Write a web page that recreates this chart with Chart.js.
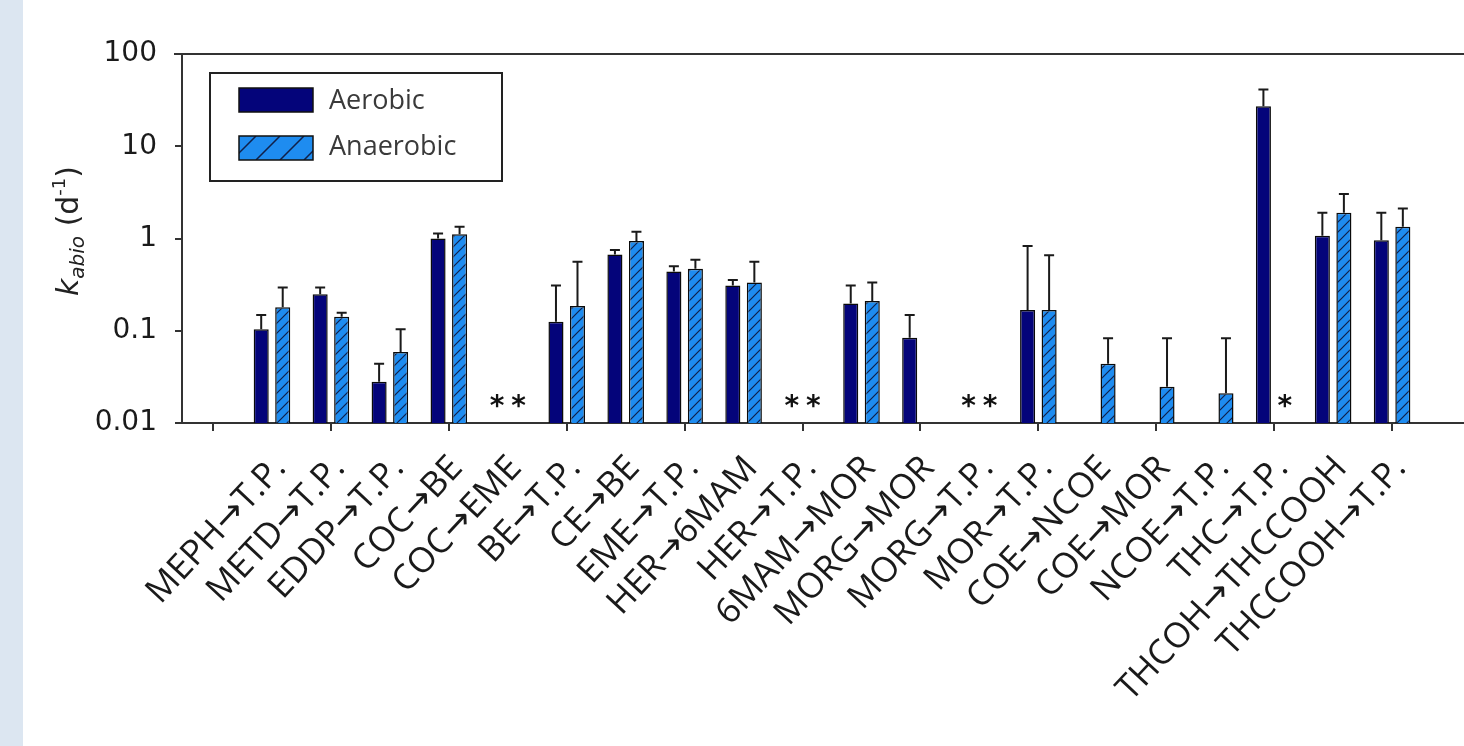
<!DOCTYPE html>
<html>
<head>
<meta charset="utf-8">
<script src="https://cdn.jsdelivr.net/npm/chart.js@4.4.1/dist/chart.umd.min.js"></script>
<style>
  html, body { margin: 0; padding: 0; background: #fff; }
  #wrap { position: relative; width: 1464px; height: 746px; overflow: hidden; }
  #strip { position: absolute; left: 0; top: 0; width: 23px; height: 746px; background: #dce6f1; }
</style>
</head>
<body>
<div id="wrap">
  <canvas id="chart" width="1464" height="746"></canvas>
  <div id="strip"></div>
</div>
<script>
// transformations (x categories)
const categories = [
  'MEPH→T.P.', 'METD→T.P.', 'EDDP→T.P.', 'COC→BE', 'COC→EME',
  'BE→T.P.', 'CE→BE', 'EME→T.P.', 'HER→6MAM', 'HER→T.P.',
  '6MAM→MOR', 'MORG→MOR', 'MORG→T.P.', 'MOR→T.P.', 'COE→NCOE',
  'COE→MOR', 'NCOE→T.P.', 'THC→T.P.', 'THCOH→THCCOOH', 'THCCOOH→T.P.'
];

// k_abio (d-1), mean and upper error bar end
const aerobic = [0.104, 0.248, 0.028, 1.0, null, 0.125, 0.67, 0.44, 0.31, null,
                 0.198, 0.084, null, 0.168, null, null, null, 27.2, 1.07, 0.96];
const aerobicErr = [0.148, 0.295, 0.044, 1.13, null, 0.31, 0.75, 0.50, 0.354, null,
                    0.31, 0.148, null, 0.83, null, null, null, 41.2, 1.9, 1.9];
const anaerobic = [0.18, 0.142, 0.059, 1.11, null, 0.185, 0.94, 0.47, 0.334, null,
                   0.21, null, null, 0.168, 0.044, 0.0247, 0.021, null, 1.9, 1.34];
const anaerobicErr = [0.295, 0.157, 0.104, 1.34, null, 0.56, 1.18, 0.59, 0.56, null,
                      0.334, null, null, 0.66, 0.083, 0.083, 0.083, null, 3.03, 2.12];

// asterisk marks for missing values
const aerobicStar = [0, 0, 0, 0, 1, 0, 0, 0, 0, 1, 0, 0, 1, 0, 0, 0, 0, 0, 0, 0];
const anaerobicStar = [0, 0, 0, 0, 1, 0, 0, 0, 0, 1, 0, 0, 1, 0, 0, 0, 0, 1, 0, 0];

const yTicks = [0.01, 0.1, 1, 10, 100];
const yTickLabels = ['0.01', '0.1', '1', '10', '100'];

const NAVY = '#04047a';
const LIGHT = '#1e8cf0';

// hatch pattern for anaerobic bars
function makeHatch() {
  const c = document.createElement('canvas');
  c.width = 10; c.height = 10;
  const g = c.getContext('2d');
  g.fillStyle = LIGHT;
  g.fillRect(0, 0, 10, 10);
  g.strokeStyle = '#10204a';
  g.lineWidth = 1.2;
  g.beginPath();
  g.moveTo(-1, 11); g.lineTo(11, -1);
  g.moveTo(-1, 1); g.lineTo(1, -1);
  g.moveTo(9, 11); g.lineTo(11, 9);
  g.stroke();
  return g.createPattern(c, 'repeat');
}
const hatch = makeHatch();

const errorBars = {
  id: 'errorBars',
  afterDatasetsDraw(chart) {
    const { ctx } = chart;
    const y = chart.scales.y;
    const errs = [aerobicErr, anaerobicErr];
    ctx.save();
    ctx.strokeStyle = '#1a1a1a';
    ctx.lineWidth = 2;
    chart.data.datasets.forEach((ds, di) => {
      const meta = chart.getDatasetMeta(di);
      meta.data.forEach((bar, i) => {
        if (ds.data[i].y == null || errs[di][i] == null) return;
        const top = y.getPixelForValue(errs[di][i]);
        ctx.beginPath();
        ctx.moveTo(bar.x, bar.y);
        ctx.lineTo(bar.x, top);
        ctx.moveTo(bar.x - 5, top);
        ctx.lineTo(bar.x + 5, top);
        ctx.stroke();
      });
    });
    ctx.restore();
  }
};

const stars = {
  id: 'stars',
  afterDatasetsDraw(chart) {
    const { ctx, chartArea } = chart;
    const flags = [aerobicStar, anaerobicStar];
    ctx.save();
    ctx.fillStyle = '#111';
    ctx.font = 'bold 28px "DejaVu Sans"';
    ctx.textAlign = 'center';
    ctx.textBaseline = 'middle';
    flags.forEach((f, di) => {
      const meta = chart.getDatasetMeta(di);
      f.forEach((on, i) => {
        if (!on) return;
        const bar = meta.data[i];
        ctx.fillText('*', bar.x, chartArea.bottom - 15);
      });
    });
    ctx.restore();
  }
};

const frame = {
  id: 'frame',
  afterDraw(chart) {
    const { ctx, chartArea } = chart;
    ctx.save();
    // top border
    ctx.strokeStyle = '#333';
    ctx.lineWidth = 2;
    ctx.beginPath();
    ctx.moveTo(chartArea.left - 8, chartArea.top);
    ctx.lineTo(chartArea.right, chartArea.top);
    ctx.stroke();

    // legend
    ctx.strokeStyle = '#222';
    ctx.lineWidth = 2;
    ctx.strokeRect(210, 73, 292, 108);

    ctx.fillStyle = NAVY;
    ctx.fillRect(239, 88, 74, 24);
    ctx.lineWidth = 1.5;
    ctx.strokeStyle = '#111';
    ctx.strokeRect(239, 88, 74, 24);

    ctx.fillStyle = LIGHT;
    ctx.fillRect(239, 136, 74, 24);
    ctx.save();
    ctx.beginPath();
    ctx.rect(239, 136, 74, 24);
    ctx.clip();
    ctx.strokeStyle = '#10204a';
    ctx.lineWidth = 1.5;
    ctx.beginPath();
    for (let x = 232; x < 330; x += 24) {
      ctx.moveTo(x, 160);
      ctx.lineTo(x + 24, 136);
    }
    ctx.stroke();
    ctx.restore();
    ctx.strokeStyle = '#111';
    ctx.lineWidth = 1.5;
    ctx.strokeRect(239, 136, 74, 24);

    ctx.fillStyle = '#3a3a3a';
    ctx.font = '27px "Open Sans"';
    ctx.textAlign = 'left';
    ctx.textBaseline = 'middle';
    ctx.fillText('Aerobic', 329, 101);
    ctx.fillText('Anaerobic', 329, 147);

    // y axis title: k_abio (d^-1)
    const parts = [
      { t: 'k', f: 'italic 30px "DejaVu Sans"', dy: 0 },
      { t: 'abio', f: 'italic 20px "DejaVu Sans"', dy: 6 },
      { t: ' (d', f: '30px "DejaVu Sans"', dy: 0 },
      { t: '-1', f: '18px "DejaVu Sans"', dy: -13 },
      { t: ')', f: '30px "DejaVu Sans"', dy: 0 }
    ];
    let total = 0;
    parts.forEach(p => { ctx.font = p.f; p.w = ctx.measureText(p.t).width; total += p.w; });
    ctx.translate(78, 231);
    ctx.rotate(-Math.PI / 2);
    ctx.fillStyle = '#222';
    ctx.textAlign = 'left';
    ctx.textBaseline = 'alphabetic';
    let cx = -total / 2;
    parts.forEach(p => { ctx.font = p.f; ctx.fillText(p.t, cx, p.dy); cx += p.w; });
    ctx.restore();
  }
};

new Chart(document.getElementById('chart'), {
  type: 'bar',
  data: {
    datasets: [
      {
        label: 'Aerobic',
        data: aerobic.map((v, i) => ({ x: i + 1, y: v })),
        backgroundColor: NAVY,
        borderColor: '#0a0a0a',
        borderWidth: 1.5
      },
      {
        label: 'Anaerobic',
        data: anaerobic.map((v, i) => ({ x: i + 1, y: v })),
        backgroundColor: hatch,
        borderColor: '#0a0a0a',
        borderWidth: 1.5
      }
    ]
  },
  options: {
    responsive: false,
    animation: false,
    categoryPercentage: 0.73,
    barPercentage: 0.7,
    layout: { padding: { top: 54, left: 0, right: 0, bottom: 0 } },
    plugins: {
      legend: { display: false },
      tooltip: { enabled: false }
    },
    scales: {
      x: {
        type: 'linear',
        offset: false,
        min: -0.526,
        max: 21.22,
        afterBuildTicks: (scale) => {
          scale.ticks = [];
          for (let i = 0; i <= 21; i++) scale.ticks.push({ value: i });
        },
        afterFit: (scale) => {
          scale.height = 323;
          scale.paddingLeft = 0;
          scale.paddingRight = 0;
        },
        grid: {
          offset: false,
          drawOnChartArea: false,
          drawTicks: true,
          tickLength: 8,
          lineWidth: 2,
          color: (c) => (c.tick && c.tick.value % 2 === 0 && c.tick.value <= 20) ? '#333' : 'rgba(0,0,0,0)'
        },
        border: { display: true, color: '#333', width: 2 },
        ticks: {
          autoSkip: false,
          maxRotation: 47,
          minRotation: 47,
          padding: 17,
          labelOffset: 8,
          color: '#1a1a1a',
          font: { family: '"Open Sans", "DejaVu Sans"', size: 35 },
          callback: (v) => categories[v - 1] || ''
        }
      },
      y: {
        type: 'logarithmic',
        min: 0.01,
        max: 100,
        afterBuildTicks: (scale) => {
          scale.ticks = yTicks.map(v => ({ value: v }));
        },
        afterFit: (scale) => { scale.width = 182; },
        grid: {
          drawOnChartArea: false,
          drawTicks: true,
          tickLength: 7,
          lineWidth: 2,
          color: '#333'
        },
        border: { display: true, color: '#333', width: 2 },
        ticks: {
          padding: 18,
          color: '#1a1a1a',
          font: { family: 'DejaVu Sans', size: 28 },
          callback: (v) => {
            const k = yTicks.indexOf(v);
            return k >= 0 ? yTickLabels[k] : '';
          }
        }
      }
    }
  },
  plugins: [errorBars, stars, frame]
});
</script>
</body>
</html>
